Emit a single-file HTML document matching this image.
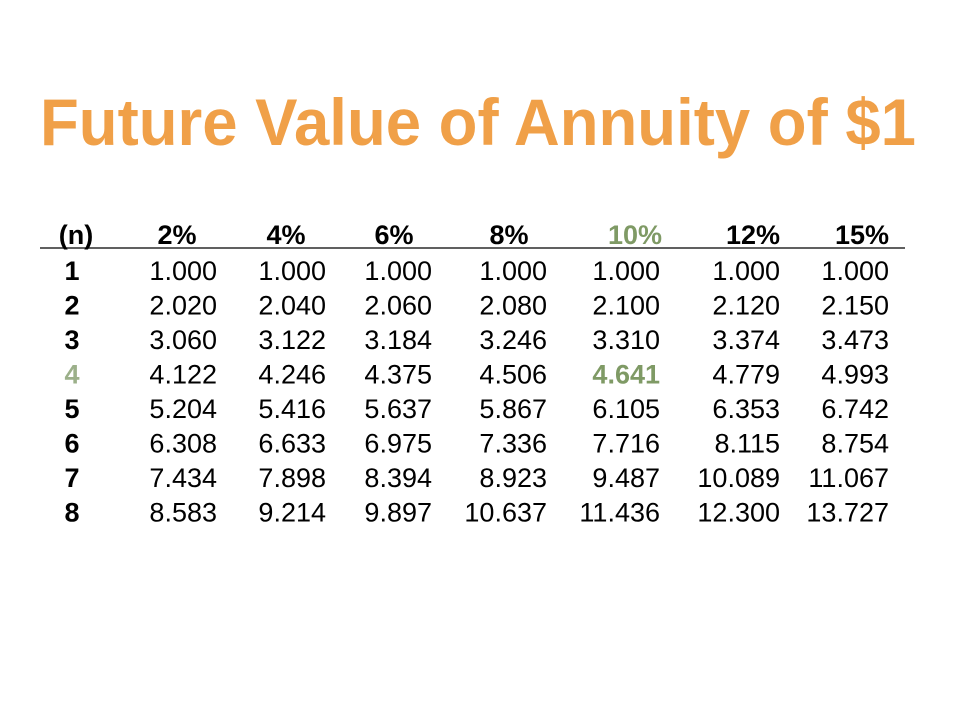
<!DOCTYPE html>
<html><head><meta charset="utf-8"><style>
html,body{margin:0;padding:0;background:#fff;}
svg{display:block;font-family:"Liberation Sans",sans-serif;}
</style></head><body>
<svg id="s" width="960" height="720" viewBox="0 0 960 720">
<text x="40" y="145" textLength="876" lengthAdjust="spacingAndGlyphs" font-size="66" font-weight="bold" fill="#F0A048">Future Value of Annuity of $1</text>
<line x1="40" y1="248" x2="905" y2="248" stroke="#000" stroke-width="1.3"/>
</svg>
<script>
const headers=["2%","4%","6%","8%","10%","12%","15%"];
const periods=["1","2","3","4","5","6","7","8"];
const values=[
["1.000","1.000","1.000","1.000","1.000","1.000","1.000"],
["2.020","2.040","2.060","2.080","2.100","2.120","2.150"],
["3.060","3.122","3.184","3.246","3.310","3.374","3.473"],
["4.122","4.246","4.375","4.506","4.641","4.779","4.993"],
["5.204","5.416","5.637","5.867","6.105","6.353","6.742"],
["6.308","6.633","6.975","7.336","7.716","8.115","8.754"],
["7.434","7.898","8.394","8.923","9.487","10.089","11.067"],
["8.583","9.214","9.897","10.637","11.436","12.300","13.727"]];
const colRight=[217,326,432,547,660,780,889];
const headX=[177,286,394,509,662,780,889];
const headAnchor=["middle","middle","middle","middle","end","end","end"];
const s=document.getElementById('s');
const NS="http://www.w3.org/2000/svg";
function t(x,y,str,anchor,bold,fill){const e=document.createElementNS(NS,'text');e.setAttribute('x',x);e.setAttribute('y',y);e.setAttribute('text-anchor',anchor);e.setAttribute('font-size','27');if(bold)e.setAttribute('font-weight','bold');e.setAttribute('fill',fill);e.textContent=str;s.appendChild(e);return e;}
let h=t(76,244,"(n)","middle",true,"#000");


headers.forEach((hd,i)=>{const e=t(headX[i],244,hd,headAnchor[i],true,i===4?"#7F9A65":"#000");

});
periods.forEach((p,r)=>{const y=280+r*34.5;
const e=t(72,y,p,"middle",true,r===3?"#9CB08A":"#000");


values[r].forEach((v,c)=>{const hi=(r===3&&c===4);const c2=t(colRight[c],y,v,"end",hi,hi?"#7F9A65":"#000");

});});
</script>
</body></html>
